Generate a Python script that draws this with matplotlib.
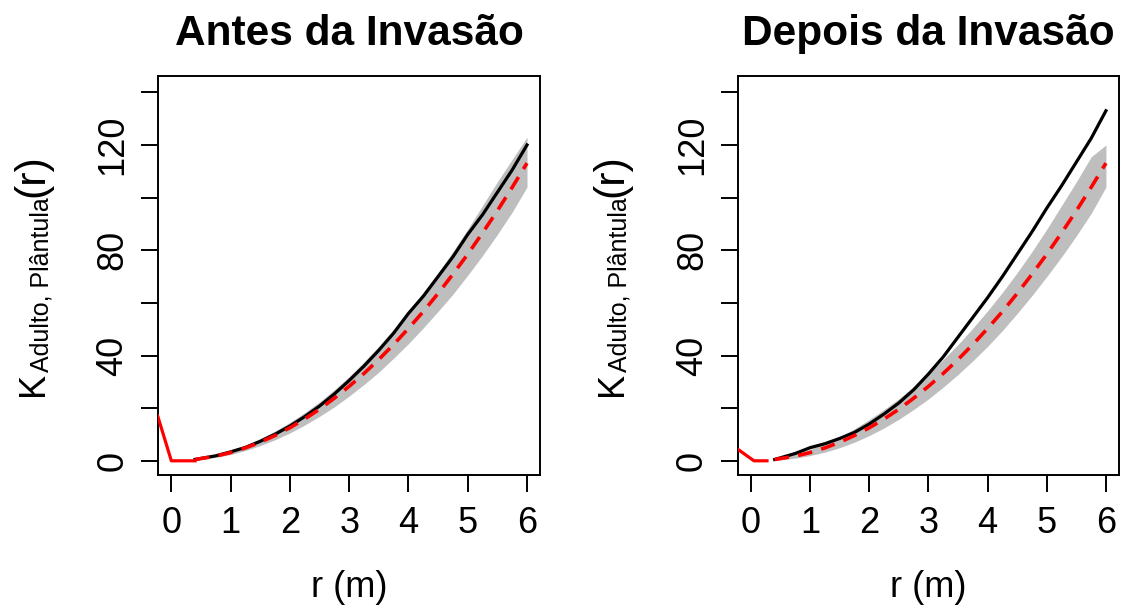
import matplotlib
matplotlib.use("Agg")
import numpy as np
import matplotlib.pyplot as plt
from matplotlib.transforms import IdentityTransform

plt.rcParams['font.family'] = ['Liberation Sans', 'DejaVu Sans']

# distances r (m)
r = [0.4, 0.75, 1.0, 1.25, 1.5, 1.75, 2.0, 2.25, 2.5, 2.75, 3.0, 3.25, 3.5,
     3.75, 4.0, 4.25, 4.5, 4.75, 5.0, 5.25, 5.5, 5.75, 6.0]

# theoretical (red dashed)
k_theo = [0.5, 1.77, 3.14, 4.91, 7.07, 9.62, 12.57, 15.9, 19.6, 23.8, 28.3, 33.2, 38.5,
          44.2, 50.3, 56.7, 63.6, 70.9, 78.5, 86.6, 95.0, 103.9, 113.1]

# antes da invasao
k_antes = [0.5, 1.9, 3.4, 5.1, 7.4, 10.1, 13.2, 16.8, 20.8, 25.4, 30.5, 36, 42,
           48.5, 56, 62.5, 70, 77.5, 86, 93.5, 102, 110.5, 120]
env_lo_antes = [0.3, 1.3, 2.4, 3.9, 5.8, 8.0, 10.6, 13.6, 16.9, 20.5, 24.6, 29, 33.7,
                39, 44.5, 50.5, 56.8, 63.3, 70.5, 78, 86, 94.5, 104]
env_hi_antes = [0.8, 2.3, 3.9, 5.9, 8.5, 11.3, 14.6, 18.3, 22.4, 27, 32, 37.6, 43.5,
                50, 57, 64, 71.5, 79.5, 88, 97, 106, 114.5, 123]
start_r_antes = [-0.23, 0.0, 0.4]
start_k_antes = [17, 0, 0]

# depois da invasao
k_depois = [0.5, 2.8, 5.0, 6.5, 8.5, 10.8, 14, 17.8, 22, 27, 33, 39.5, 47,
            54.5, 62, 70, 78.5, 87, 96, 104.5, 113.5, 122.5, 133]
env_lo_depois = [0.2, 1.0, 2.0, 3.3, 5.0, 7.1, 9.6, 12.5, 15.8, 19.5, 23.5, 28, 32.8,
                 38, 43.5, 49.5, 56, 62.8, 70, 77.5, 85.5, 94, 104]
env_hi_depois = [0.9, 2.6, 4.4, 6.6, 9.2, 12.2, 15.7, 19.5, 23.6, 28.2, 33, 38.5, 44.2,
                 50.4, 57, 64, 71.5, 79.5, 88, 97, 106, 115.5, 120]
start_r_depois = [-0.23, 0.05, 0.27]
start_k_depois = [4.5, 0, 0]

titles = ['Antes da Invasão', 'Depois da Invasão']
yticks = [0, 20, 40, 60, 80, 100, 120, 140]
ytick_labels = ['0', '', '40', '', '80', '', '120', '']

# y label pieces: text, size, baseline shift (px, + = down)
ylab_parts = [('K', 26, 0), ('Adulto, Plântula', 18, 5), ('(r)', 31, 0)]

fig = plt.figure(figsize=(11.23, 6.09), dpi=100)
ax1 = fig.add_axes([0.1407, 0.22, 0.3402, 0.6552])
ax2 = fig.add_axes([0.6569, 0.22, 0.3395, 0.6552])

panels = [(ax1, k_antes, env_lo_antes, env_hi_antes, start_r_antes, start_k_antes),
          (ax2, k_depois, env_lo_depois, env_hi_depois, start_r_depois, start_k_depois)]

for i, (ax, k_obs, lo, hi, sr, sk) in enumerate(panels):
    ax.fill_between(r, lo, hi, color='#bebebe', lw=0, zorder=1)
    ax.plot(r, k_obs, color='black', lw=2.3, zorder=2)
    ax.plot(r, k_theo, color='red', lw=2.6, dashes=(4, 2.6), zorder=3)
    ax.plot(sr, sk, color='red', lw=2.3, zorder=4)
    ax.set_xlim(-0.225, 6.22)
    ax.set_ylim(-5.4, 146.2)
    ax.set_xticks([0, 1, 2, 3, 4, 5, 6])
    ax.set_yticks(yticks)
    ax.set_yticklabels(ytick_labels, rotation=90, va='center')
    ax.tick_params(axis='both', labelsize=26, length=12, width=1.4)
    ax.tick_params(axis='x', pad=10)
    ax.tick_params(axis='y', pad=8)
    for s in ax.spines.values():
        s.set_linewidth(1.4)
    ax.set_title(titles[i], fontsize=30.5, fontweight='bold', pad=22)
    ax.set_xlabel('r (m)', fontsize=26, labelpad=21)

# y labels built from pieces (baseline x in pixels, centred on the axes)
fig.canvas.draw()
renderer = fig.canvas.get_renderer()
for ax, x_base in [(ax1, 43), (ax2, 622)]:
    bb = ax.get_window_extent(renderer)
    texts = []
    for txt, size, shift in ylab_parts:
        t = fig.text(0, 0, txt, fontsize=size, rotation=90, rotation_mode='anchor',
                     ha='left', va='baseline', transform=IdentityTransform())
        texts.append((t, shift))
    lengths = [t.get_window_extent(renderer).height for t, _ in texts]
    y = (bb.y0 + bb.y1) / 2 - sum(lengths) / 2
    for (t, shift), L in zip(texts, lengths):
        t.set_position((x_base + shift, y))
        y += L

fig.savefig('out.png', dpi=100)
